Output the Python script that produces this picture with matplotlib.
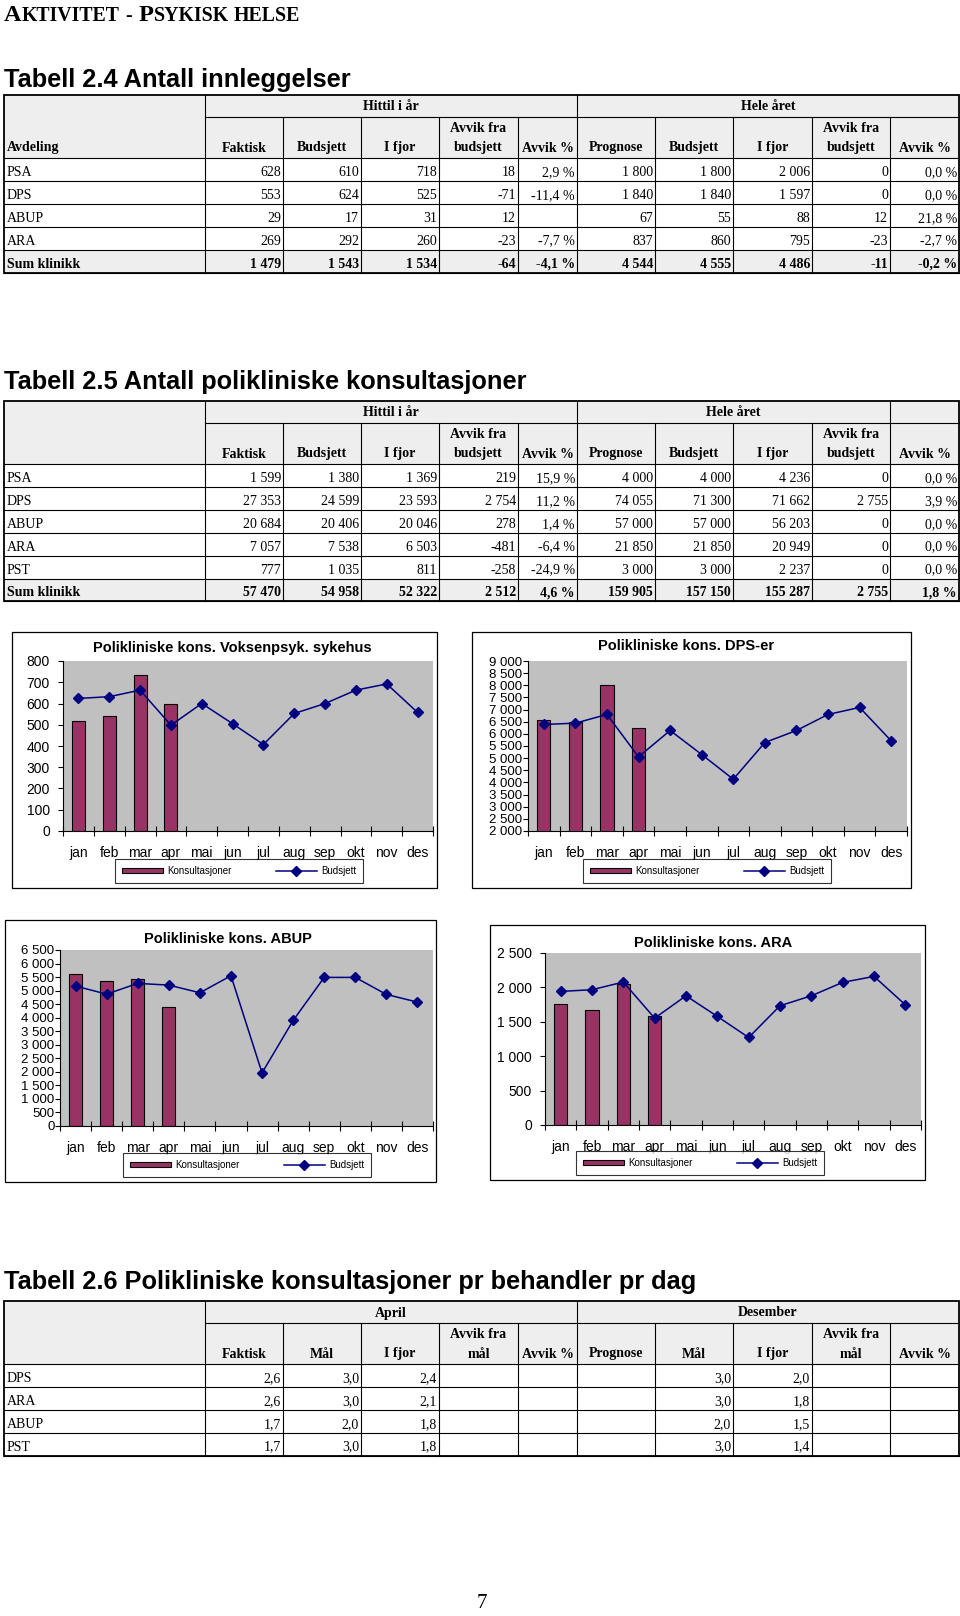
import numpy as np
import matplotlib
matplotlib.use("Agg")
import matplotlib.pyplot as plt
from matplotlib.patches import Rectangle
from matplotlib.ticker import FuncFormatter

SERIF = "Liberation Serif"
SANS = "Liberation Sans"
plt.rcParams['font.family'] = SANS

# Tabell 2.4 Antall innleggelser
t24_names = ["PSA", "DPS", "ABUP", "ARA", "Sum klinikk"]
t24_faktisk = [628, 553, 29, 269, 1479]
t24_budsjett = [610, 624, 17, 292, 1543]
t24_ifjor = [718, 525, 31, 260, 1534]
t24_avvik = [18, -71, 12, -23, -64]
t24_avvik_pct = [2.9, -11.4, None, -7.7, -4.1]
t24_prognose = [1800, 1840, 67, 837, 4544]
t24_budsjett_aar = [1800, 1840, 55, 860, 4555]
t24_ifjor_aar = [2006, 1597, 88, 795, 4486]
t24_avvik_aar = [0, 0, 12, -23, -11]
t24_avvik_pct_aar = [0.0, 0.0, 21.8, -2.7, -0.2]

# Tabell 2.5 Antall polikliniske konsultasjoner
t25_names = ["PSA", "DPS", "ABUP", "ARA", "PST", "Sum klinikk"]
t25_faktisk = [1599, 27353, 20684, 7057, 777, 57470]
t25_budsjett = [1380, 24599, 20406, 7538, 1035, 54958]
t25_ifjor = [1369, 23593, 20046, 6503, 811, 52322]
t25_avvik = [219, 2754, 278, -481, -258, 2512]
t25_avvik_pct = [15.9, 11.2, 1.4, -6.4, -24.9, 4.6]
t25_prognose = [4000, 74055, 57000, 21850, 3000, 159905]
t25_budsjett_aar = [4000, 71300, 57000, 21850, 3000, 157150]
t25_ifjor_aar = [4236, 71662, 56203, 20949, 2237, 155287]
t25_avvik_aar = [0, 2755, 0, 0, 0, 2755]
t25_avvik_pct_aar = [0.0, 3.9, 0.0, 0.0, 0.0, 1.8]

# Tabell 2.6 Polikliniske konsultasjoner pr behandler pr dag
t26_names = ["DPS", "ARA", "ABUP", "PST"]
t26_faktisk = [2.6, 2.6, 1.7, 1.7]
t26_maal = [3.0, 3.0, 2.0, 3.0]
t26_ifjor = [2.4, 2.1, 1.8, 1.8]
t26_maal_des = [3.0, 3.0, 2.0, 3.0]
t26_ifjor_des = [2.0, 1.8, 1.5, 1.4]

# charts
months = ["jan", "feb", "mar", "apr", "mai", "jun", "jul", "aug", "sep", "okt", "nov", "des"]
psa_kons = [517, 541, 734, 596]
psa_budsjett = [624, 632, 663, 498, 600, 505, 407, 553, 600, 663, 692, 558]
dps_kons = [6560, 6500, 8000, 6230]
dps_budsjett = [6386, 6441, 6799, 5053, 6139, 5149, 4131, 5644, 6139, 6799, 7088, 5713]
abup_kons = [5612, 5353, 5414, 4403]
abup_budsjett = [5167, 4871, 5266, 5204, 4921, 5550, 1961, 3897, 5488, 5488, 4859, 4575]
ara_kons = [1757, 1670, 2048, 1582]
ara_budsjett = [1942, 1966, 2078, 1553, 1878, 1578, 1272, 1733, 1878, 2073, 2160, 1747]


def fmt_int(v):
    if v is None:
        return ''
    s = f"{abs(v):,}".replace(',', ' ')
    return ('-' if v < 0 else '') + s


def fmt_dec(v):
    return '' if v is None else f"{v:.1f}".replace('.', ',')


def fmt_pct(v):
    return '' if v is None else fmt_dec(v) + ' %'


W, H = 960, 1616
fig = plt.figure(figsize=(9.6, 16.16), dpi=100)
bg = fig.add_axes([0, 0, 1, 1])
bg.set_xlim(0, W)
bg.set_ylim(H, 0)
bg.axis('off')

# page heading in small caps
renderer = fig.canvas.get_renderer()
xpos = 4
for piece, size, gap in [("A", 17.5, 0), ("KTIVITET", 14.3, 6), ("-", 14.3, 7), ("P", 17.5, 0),
                         ("SYKISK", 14.3, 5), ("HELSE", 14.3, 0)]:
    t = bg.text(xpos, 21, piece, fontsize=size, fontweight='bold', family=SERIF, va='baseline')
    xpos += t.get_window_extent(renderer).width + gap

col_x = [4, 205, 283, 361, 439, 518, 577, 655, 733, 812, 890, 959]
FILL = '#eeeeee'


def table(title, title_y, top, names, cols, heads, groups, split_last=False, corner='',
          sum_row=True):
    bg.text(4, title_y, title, fontsize=18.3, fontweight='bold', family=SANS, va='baseline')
    x = col_x
    y1 = top + 22
    y2 = top + 63
    rh = 22.9
    bottom = y2 + rh * len(names)
    bg.add_patch(Rectangle((x[0], top), x[-1] - x[0], y2 - top, fc=FILL, ec='none', zorder=0))
    if sum_row:
        bg.add_patch(Rectangle((x[0], bottom - rh), x[-1] - x[0], rh, fc=FILL, ec='none', zorder=0))
    thin = dict(color='black', lw=0.8, zorder=2)
    bg.plot([x[1], x[-1]], [y1, y1], **thin)
    for k in range(len(names) + 1):
        yy = y2 + k * rh
        bg.plot([x[0], x[-1]], [yy, yy], **thin)
    full = [1, 6] + ([10] if split_last else [])
    for i in range(1, len(x) - 1):
        bg.plot([x[i], x[i]], [top if i in full else y1, bottom], **thin)
    bg.add_patch(Rectangle((x[0], top), x[-1] - x[0], bottom - top, fc='none', ec='black',
                           lw=1.3, zorder=3))
    hb = dict(fontsize=10, fontweight='bold', family=SERIF, va='center')
    gr_end = x[10] if split_last else x[11]
    bg.text((x[1] + x[6]) / 2, (top + y1) / 2 + 1, groups[0], ha='center', **hb)
    bg.text((x[6] + gr_end) / 2, (top + y1) / 2 + 1, groups[1], ha='center', **hb)
    if corner:
        bg.text(x[0] + 3, y2 - 10, corner, ha='left', **hb)
    for i, h in enumerate(heads):
        xc = (x[i + 1] + x[i + 2]) / 2
        lines = h.split('\n')
        for j, ln in enumerate(lines):
            bg.text(xc, y2 - 10 - 19 * (len(lines) - 1 - j), ln, ha='center', **hb)
    for r, name in enumerate(names):
        bold = sum_row and r == len(names) - 1
        base = y2 + (r + 1) * rh - 5
        kw = dict(fontsize=10, family=SERIF, va='baseline', fontweight='bold' if bold else 'normal')
        bg.text(x[0] + 3, base, name, ha='left', **kw)
        for c, col in enumerate(cols):
            bg.text(x[c + 2] - 2, base, col[r], ha='right', **kw)


heads_bud = ["Faktisk", "Budsjett", "I fjor", "Avvik fra\nbudsjett", "Avvik %",
             "Prognose", "Budsjett", "I fjor", "Avvik fra\nbudsjett", "Avvik %"]
heads_maal = ["Faktisk", "Mål", "I fjor", "Avvik fra\nmål", "Avvik %",
              "Prognose", "Mål", "I fjor", "Avvik fra\nmål", "Avvik %"]

t24_cols = [[fmt_int(v) for v in t24_faktisk], [fmt_int(v) for v in t24_budsjett],
            [fmt_int(v) for v in t24_ifjor], [fmt_int(v) for v in t24_avvik],
            [fmt_pct(v) for v in t24_avvik_pct], [fmt_int(v) for v in t24_prognose],
            [fmt_int(v) for v in t24_budsjett_aar], [fmt_int(v) for v in t24_ifjor_aar],
            [fmt_int(v) for v in t24_avvik_aar], [fmt_pct(v) for v in t24_avvik_pct_aar]]
table("Tabell 2.4 Antall innleggelser", 87, 95, t24_names, t24_cols, heads_bud,
      ["Hittil i år", "Hele året"], corner="Avdeling")

t25_cols = [[fmt_int(v) for v in t25_faktisk], [fmt_int(v) for v in t25_budsjett],
            [fmt_int(v) for v in t25_ifjor], [fmt_int(v) for v in t25_avvik],
            [fmt_pct(v) for v in t25_avvik_pct], [fmt_int(v) for v in t25_prognose],
            [fmt_int(v) for v in t25_budsjett_aar], [fmt_int(v) for v in t25_ifjor_aar],
            [fmt_int(v) for v in t25_avvik_aar], [fmt_pct(v) for v in t25_avvik_pct_aar]]
table("Tabell 2.5 Antall polikliniske konsultasjoner", 389, 401, t25_names, t25_cols, heads_bud,
      ["Hittil i år", "Hele året"], split_last=True)

blank = [''] * len(t26_names)
t26_cols = [[fmt_dec(v) for v in t26_faktisk], [fmt_dec(v) for v in t26_maal],
            [fmt_dec(v) for v in t26_ifjor], blank, blank, blank,
            [fmt_dec(v) for v in t26_maal_des], [fmt_dec(v) for v in t26_ifjor_des], blank, blank]
table("Tabell 2.6 Polikliniske konsultasjoner pr behandler pr dag", 1289, 1301, t26_names,
      t26_cols, heads_maal, ["April", "Desember"], sum_row=False)


def chart(frame, plot, title, title_xy, kons, bud, ylim, step, leg_c, ysize, ypad):
    fx0, fy0, fx1, fy1 = frame
    bg.add_patch(Rectangle((fx0, fy0), fx1 - fx0, fy1 - fy0, fc='white', ec='black', lw=0.9))
    px0, py0, px1, py1 = plot
    ax = fig.add_axes([px0 / W, 1 - py1 / H, (px1 - px0) / W, (py1 - py0) / H])
    ax.set_facecolor('#c0c0c0')
    x = np.arange(len(months))
    bars = ax.bar(x[:len(kons)], kons, width=0.42, color='#993366', edgecolor='black',
                  linewidth=0.8, zorder=2)
    line, = ax.plot(x, bud, color='#000080', marker='D', markersize=5, linewidth=1.1, zorder=3)
    ax.set_xlim(-0.5, 11.5)
    ax.set_ylim(*ylim)
    ax.set_yticks(np.arange(ylim[0], ylim[1] + 1, step))
    ax.yaxis.set_major_formatter(FuncFormatter(lambda v, p: fmt_int(int(round(v)))))
    ax.set_xticks(x)
    ax.set_xticklabels(months)
    ax.set_xticks(np.arange(-0.5, 12, 1), minor=True)
    ax.tick_params(axis='x', which='major', length=0, pad=11, labelsize=10)
    ax.tick_params(axis='x', which='minor', direction='inout', length=7, width=0.8)
    ax.tick_params(axis='y', direction='out', length=3.5, width=0.8, pad=ypad, labelsize=ysize)
    ax.spines[['top', 'right']].set_visible(False)
    ax.spines[['left', 'bottom']].set_linewidth(0.8)
    bg.text(title_xy[0], title_xy[1], title, ha='center', va='center', fontsize=10.5,
            fontweight='bold', family=SANS)
    leg = ax.legend([bars, line], ["Konsultasjoner", "Budsjett"], loc='center',
                    bbox_to_anchor=(leg_c[0] / W, 1 - leg_c[1] / H),
                    bbox_transform=fig.transFigure, ncol=2, frameon=True, fancybox=False,
                    edgecolor='black', fontsize=7, handlelength=4.3, handleheight=0.5,
                    columnspacing=4.5, borderpad=0.7, handletextpad=0.4)
    leg.get_frame().set_linewidth(0.8)


chart((12, 632, 437, 888), (63, 661, 433, 831), "Polikliniske kons. Voksenpsyk. sykehus",
      (232, 648), psa_kons, psa_budsjett, (0, 800), 100, (239, 871), 10, 6)
chart((472, 632, 911, 888), (528, 661, 907, 831), "Polikliniske kons. DPS-er",
      (686, 646), dps_kons, dps_budsjett, (2000, 9000), 500, (707, 871), 9.5, 0.5)
chart((5, 920, 436, 1182), (60, 950, 433, 1126), "Polikliniske kons. ABUP",
      (228, 939), abup_kons, abup_budsjett, (0, 6500), 500, (247, 1165), 9.5, 0.5)
chart((490, 925, 925, 1180), (545, 953, 921, 1125), "Polikliniske kons. ARA",
      (713, 943), ara_kons, ara_budsjett, (0, 2500), 500, (700, 1163), 10, 6)

bg.text(482, 1608, "7", ha='center', va='baseline', fontsize=15, family=SERIF)

fig.savefig("out.png", dpi=100)
